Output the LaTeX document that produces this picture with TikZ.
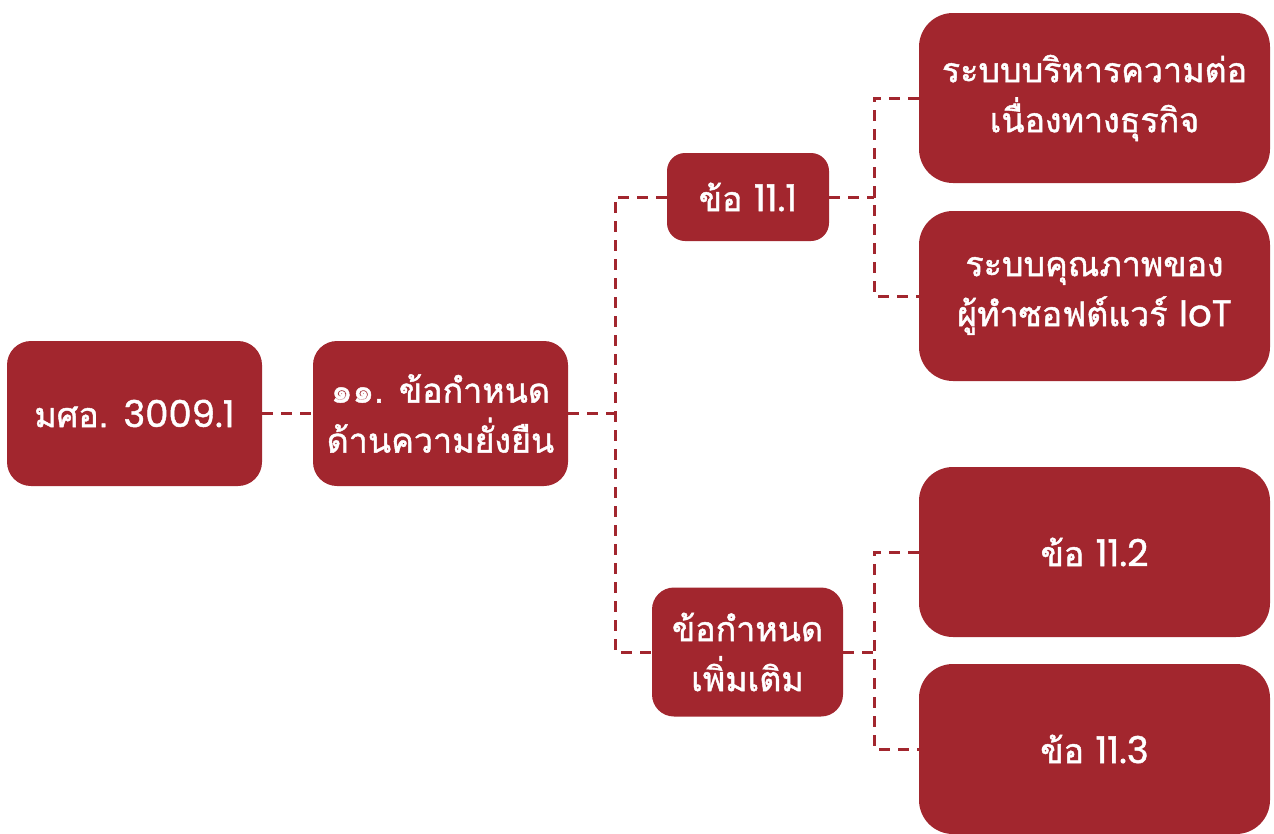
\documentclass[tikz,border=0pt]{standalone}
\usepackage{fontspec}
\newfontfamily\thai[Script=Thai, FakeBold=1.3]{Loma}
\newfontfamily\lat[FakeBold=1.2]{Poppins}
% Latin words and numbers, set a little larger to sit with the Thai
\newcommand\latword[1]{{\lat\fontsize{37}{50}\selectfont #1}}
\definecolor{brick}{HTML}{A2262E}
\tikzset{
  box/.style={fill=brick, text=white, rounded corners=#1, align=center,
    inner sep=0pt, font=\thai\fontsize{34}{50}\selectfont},
  box/.default=24pt,
  link/.style={draw=brick, line width=3pt, dash pattern=on 11pt off 8pt}
}
\begin{document}
\begin{tikzpicture}[x=1pt, y=-1pt]
  \useasboundingbox (0,0) rectangle (1274,833);
  % level 0 and 1
  \node[box, minimum width=255pt, minimum height=145pt] (A) at (134.5,413.5)
    {มศอ. \latword{3009.1}};
  \node[box, minimum width=255pt, minimum height=145pt] (B) at (440.5,413.5)
    {๑๑. ข้อกำหนด\\ด้านความยั่งยืน};
  % level 2
  \node[box=18pt, minimum width=162pt, minimum height=88pt] (C) at (748,197)
    {ข้อ \latword{11.1}};
  \node[box=22pt, minimum width=191pt, minimum height=129pt] (D) at (747.5,652)
    {ข้อกำหนด\\เพิ่มเติม};
  % level 3
  \node[box=34pt, minimum width=351pt, minimum height=170pt] (E) at (1094.5,98)
    {ระบบบริหารความต่อ\\เนื่องทางธุรกิจ};
  \node[box=34pt, minimum width=351pt, minimum height=170pt] (F) at (1094.5,296)
    {ระบบคุณภาพของ\\ผู้ทำซอฟต์แวร์ \latword{IoT}};
  \node[box=34pt, minimum width=351pt, minimum height=170pt] (G) at (1094.5,552)
    {ข้อ \latword{11.2}};
  \node[box=34pt, minimum width=351pt, minimum height=170pt] (H) at (1094.5,749)
    {ข้อ \latword{11.3}};
  % junction points of the dashed tree
  \coordinate (j1) at (615,413.5);
  \coordinate (j2) at (874,197);
  \coordinate (j3) at (874,652);
  % connectors
  \draw[link] (A) -- (B);
  \draw[link] (B.east) -- (j1);
  \draw[link] (C.west) -| (j1) |- (D.west);
  \draw[link] (C.east) -- (j2);
  \draw[link] (E.west) -| (j2) |- (F.west);
  \draw[link] (D.east) -- (j3);
  \draw[link] (G.west) -| (j3) |- (H.west);
\end{tikzpicture}
\end{document}
